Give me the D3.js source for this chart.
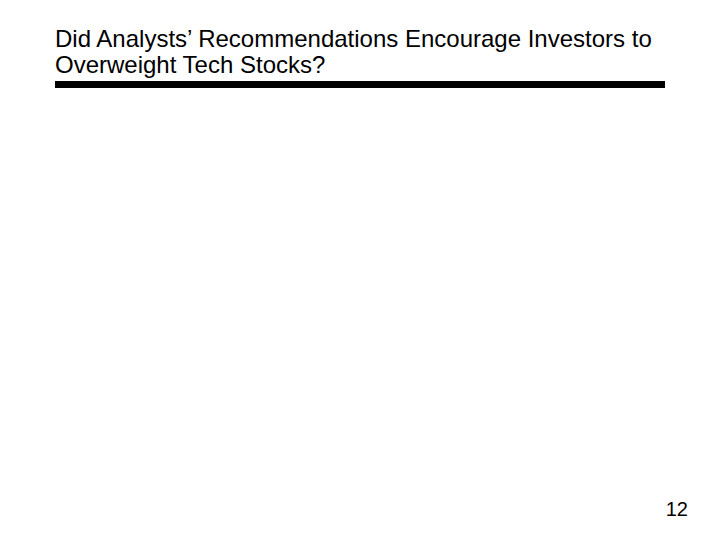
<!DOCTYPE html>
<html><head><meta charset="utf-8">
<script src="https://cdn.jsdelivr.net/npm/d3@7"></script>
<style>html,body{margin:0;padding:0;background:#fff;}</style>
</head><body>
<script>
const titleLines = ["Did Analysts\u2019 Recommendations Encourage Investors to", "Overweight Tech Stocks?"];
const pageNumber = ["12"];

const svg = d3.select("body").append("svg").attr("width", 720).attr("height", 540);
svg.append("rect").attr("width", 720).attr("height", 540).attr("fill", "#fff");

svg.selectAll("text.title").data(titleLines).enter().append("text")
  .attr("class", "title")
  .attr("x", 55).attr("y", (d, i) => 47 + i * 25.5)
  .attr("font-family", "Liberation Sans, Arial, sans-serif")
  .attr("font-size", 24).attr("fill", "#000")
  .text(d => d);

svg.append("rect").attr("x", 55).attr("y", 81).attr("width", 610).attr("height", 7).attr("fill", "#000");

svg.selectAll("text.page").data(pageNumber).enter().append("text")
  .attr("class", "page")
  .attr("x", 688).attr("y", 516).attr("text-anchor", "end")
  .attr("font-family", "Liberation Sans, Arial, sans-serif")
  .attr("font-size", 20).attr("fill", "#000")
  .text(d => d);
</script>
</body></html>
